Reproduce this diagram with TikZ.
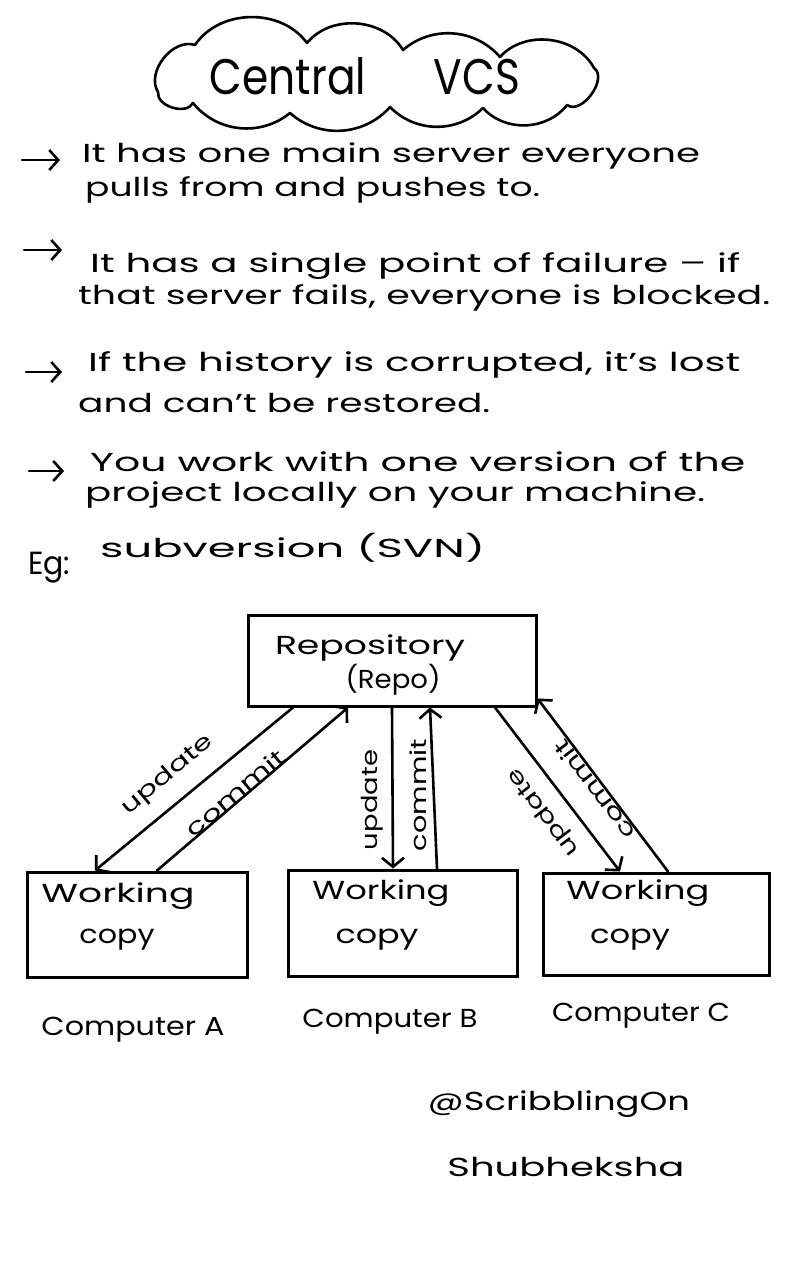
\documentclass[tikz,border=0pt]{standalone}
\usepackage{fontspec}
\setmainfont{Poppins}
\usetikzlibrary{arrows.meta,calc}
\newcommand{\fitw}[2]{\resizebox{#1pt}{\height}{#2}}
\tikzset{
  ink/.style={line width=2.6pt, line cap=round, line join=round},
  txt/.style={inner sep=0pt, font=\fontsize{26}{28}\selectfont},
  tline/.style={txt, anchor=west},
  boxnode/.style={draw, line width=3pt, inner sep=0pt},
  flow/.style={ink, -{Straight Barb[length=9pt,width=22pt]}},
  bullet/.style={ink, -{Straight Barb[length=9pt,width=20pt]}},
  lbl/.style={inner sep=0pt, font=\fontsize{22}{24}\selectfont},
}
\begin{document}
\begin{tikzpicture}[x=1pt,y=-1pt]
\useasboundingbox[fill=white] (0,0) rectangle (800,1280);

% cloud title
\draw[ink] (158,92) to[bend left=70] (195,45)
  to[bend left=55] (307,43)
  to[bend left=55] (403,50)
  to[bend left=45] (500,57)
  to[bend left=55] (594,68)
  to[bend left=90] (567,105)
  to[bend left=50] (483,108)
  to[bend left=45] (390,107)
  to[bend left=45] (290,113)
  to[bend left=45] (193,103)
  to[bend left=80] cycle;
\node[txt, font=\fontsize{50}{52}\selectfont] (title) at (365,76) {\fitw{310}{Central\hspace{1.6em}VCS}};

% bullets
\coordinate (b1s) at (22,160); \coordinate (b1e) at (60,160);
\coordinate (b2s) at (24,250); \coordinate (b2e) at (62,250);
\coordinate (b3s) at (26,372); \coordinate (b3e) at (62,372);
\coordinate (b4s) at (29,471); \coordinate (b4e) at (64,471);
\draw[bullet] (b1s) -- (b1e);
\draw[bullet] (b2s) -- (b2e);
\draw[bullet] (b3s) -- (b3e);
\draw[bullet] (b4s) -- (b4e);

\node[tline] (l1a) at (82,156) {\fitw{618}{It has one main server everyone}};
\node[tline] (l1b) at (85,190) {\fitw{455}{pulls from and pushes to.}};
\node[tline] (l2a) at (90,266) {\fitw{650}{It has a single point of failure -- if}};
\node[tline] (l2b) at (78,298) {\fitw{692}{that server fails, everyone is blocked.}};
\node[tline] (l3a) at (88,365) {\fitw{652}{If the history is corrupted, it's lost}};
\node[tline] (l3b) at (78,403) {\fitw{412}{and can't be restored.}};
\node[tline] (l4a) at (90,462) {\fitw{655}{You work with one version of the}};
\node[tline] (l4b) at (85,495) {\fitw{620}{project locally on your machine.}};
\node[tline, font=\fontsize{32}{34}\selectfont] (eg) at (28,568) {\fitw{42}{Eg:}};
\node[tline] (svn) at (100,548) {\fitw{385}{subversion (SVN)}};

% boxes
\node[boxnode, minimum width=288pt, minimum height=91pt] (repo) at (392,660.5) {};
\node[boxnode, minimum width=220pt, minimum height=105pt] (wca) at (137,924.5) {};
\node[boxnode, minimum width=229pt, minimum height=106pt] (wcb) at (402.5,923) {};
\node[boxnode, minimum width=226pt, minimum height=102pt] (wcc) at (656,924) {};

\node[txt] (repot1) at (370,648) {\fitw{190}{Repository}};
\node[txt] (repot2) at (393,680) {\fitw{95}{(Repo)}};
\node[txt] (wat1) at (118,896) {\fitw{153}{Working}};
\node[txt] (wat2) at (117,940) {\fitw{75}{copy}};
\node[txt] (wbt1) at (381,893) {\fitw{137}{Working}};
\node[txt] (wbt2) at (377,940) {\fitw{83}{copy}};
\node[txt] (wct1) at (638,893) {\fitw{143}{Working}};
\node[txt] (wct2) at (630,940) {\fitw{80}{copy}};

% arrows
\draw[flow] ([xshift=-99pt]repo.south) -- ([xshift=-42pt]wca.north);
\draw[flow] ([xshift=20pt]wca.north) -- ([xshift=-44pt]repo.south);
\draw[flow] (repo.south) -- ([xshift=-9.5pt]wcb.north);
\draw[flow] ([xshift=34.5pt]wcb.north) -- ([xshift=38pt]repo.south);
\draw[flow] ([xshift=103pt]repo.south) -- ([xshift=-36pt]wcc.north);
\draw[flow] ([xshift=12pt]wcc.north) -- ([yshift=9pt]repo.south east);

% arrow labels
\node[lbl, rotate=40] (ua) at (168,775) {\fitw{112}{update}};
\node[lbl, rotate=40] (ca) at (235,793) {\fitw{122}{commit}};
\node[lbl, rotate=90] (ub) at (372,800) {\fitw{100}{update}};
\node[lbl, rotate=90] (cb) at (418,795) {\fitw{112}{commit}};
\node[lbl, rotate=127] (uc) at (544,812) {\fitw{105}{update}};
\node[lbl, rotate=127] (cc) at (594,790) {\fitw{118}{commit}};

% computer labels
\node[txt] (ka) at (133,1030) {\fitw{183}{Computer A}};
\node[txt] (kb) at (390,1022) {\fitw{175}{Computer B}};
\node[txt] (kc) at (641,1016) {\fitw{178}{Computer C}};

% signature
\node[txt] (sig1) at (559,1104) {\fitw{262}{@ScribblingOn}};
\node[txt] (sig2) at (566,1167) {\fitw{237}{Shubheksha}};
\end{tikzpicture}
\end{document}
